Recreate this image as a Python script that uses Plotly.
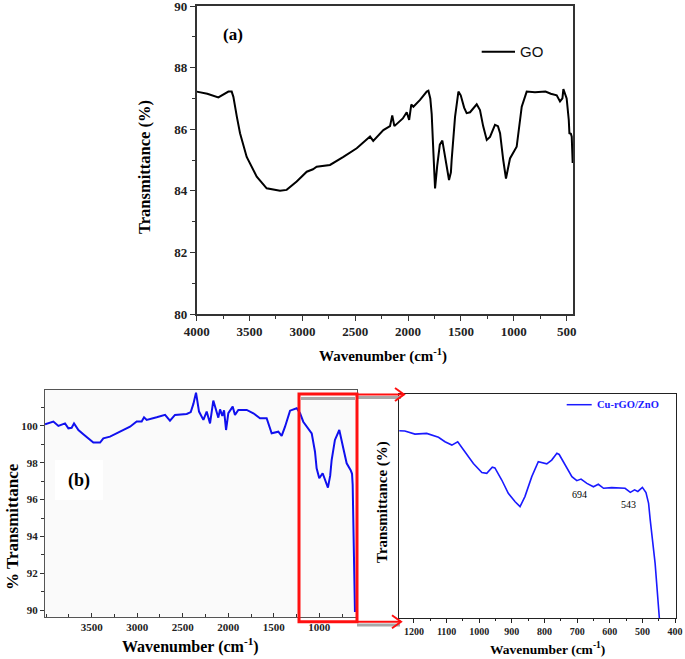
import plotly.graph_objects as go

W, H = 685, 659

# ---------------- data ----------------
go_wn = [4000, 3900, 3795, 3740, 3700, 3669, 3653, 3620, 3590, 3527, 3432, 3338, 3270, 3212, 3149,
         3054, 2959, 2900, 2865, 2739, 2612, 2486, 2360, 2330, 2234, 2171, 2150, 2130, 2050, 2013,
         1990, 1970, 1950, 1887, 1824, 1808, 1790, 1777, 1760, 1745, 1725, 1700, 1676, 1655, 1641,
         1613, 1595, 1588, 1556, 1524, 1502, 1470, 1446, 1414, 1351, 1320, 1290, 1256, 1225, 1178,
         1150, 1130, 1100, 1074, 1036, 973, 925, 878, 800, 700, 650, 594, 563, 540, 531, 510, 500,
         480, 474, 460, 452, 443]
go_t = [87.22, 87.15, 87.03, 87.15, 87.22, 87.22, 87.05, 86.4, 85.87, 85.1, 84.46, 84.08, 84.03, 84.0, 84.03,
        84.3, 84.62, 84.7, 84.78, 84.84, 85.1, 85.38, 85.76, 85.62, 85.97, 86.1, 86.45, 86.1, 86.35, 86.55,
        86.3, 86.8, 86.73, 86.95, 87.22, 87.25, 87.0, 86.5, 85.2, 84.08, 84.8, 85.5, 85.63, 85.2, 85.0,
        84.35, 84.6, 85.0, 86.4, 87.22, 87.1, 86.7, 86.52, 86.55, 86.81, 86.62, 86.1, 85.65, 85.75, 86.14,
        86.1, 85.87, 85.0, 84.4, 85.05, 85.43, 86.73, 87.22, 87.2, 87.22, 87.15, 87.1, 86.9, 87.0, 87.3, 87.05, 87.0,
        86.3, 85.87, 85.85, 85.76, 84.9]

cz_wn = [4013, 3921, 3866, 3793, 3756, 3720, 3694, 3646, 3592, 3518, 3482, 3408, 3372, 3299, 3189,
         3079, 3006, 2951, 2925, 2896, 2786, 2694, 2640, 2585, 2456, 2412, 2383, 2354, 2321, 2273,
         2237, 2200, 2164, 2127, 2109, 2090, 2065, 2046, 2024, 1999, 1951, 1926, 1889, 1797, 1724,
         1651, 1578, 1523, 1450, 1413, 1376, 1321, 1248, 1211, 1176, 1083, 1047, 1029, 1000, 963,
         935, 905, 880, 864, 828, 780, 736, 699, 655, 640, 633, 625, 618, 612, 608]
cz_t = [100.09, 100.24, 100.0, 100.14, 99.87, 99.9, 100.14, 99.78, 99.55, 99.28, 99.1, 99.1, 99.33, 99.42, 99.69,
        99.96, 100.24, 100.24, 100.47, 100.33, 100.47, 100.6, 100.29, 100.6, 100.65, 100.75, 101.2, 101.81, 100.78, 100.33,
        100.78, 100.14, 101.38, 100.69, 100.45, 100.9, 100.55, 100.85, 99.78, 100.7, 101.05, 100.6, 100.87, 100.87, 100.69,
        100.42, 100.42, 99.6, 99.69, 99.46, 99.96, 100.83, 100.96, 100.69, 100.23, 99.6, 98.6, 97.7, 97.16, 97.43,
        97.1, 96.65, 97.3, 98.15, 99.24, 99.78, 98.79, 97.97, 97.6, 97.4, 96.8, 94.2, 92.0, 90.5, 89.9]

zoom_wn = [1246, 1228, 1197, 1161, 1125, 1105, 1084, 1066, 1044, 1018, 992, 977, 960, 952, 931, 911, 890,
           875, 860, 839, 819, 808, 793, 778, 762, 755, 737, 716, 701, 688, 670, 650, 635, 619, 594,
           553, 537, 524, 514, 500, 489, 481, 476, 461, 448]
zoom_t = [98.36, 98.35, 98.21, 98.24, 98.07, 97.87, 97.72, 97.87, 97.42, 96.9, 96.49, 96.46, 96.73, 96.7, 96.16, 95.57, 95.19,
          94.97, 95.42, 96.31, 96.98, 96.95, 96.88, 97.05, 97.35, 97.3, 96.83, 96.31, 96.13, 96.2, 96.01, 95.86, 95.97, 95.79, 95.82,
          95.79, 95.61, 95.72, 95.65, 95.83, 95.6, 95.12, 94.38, 92.44, 89.99]

peak_wn = [694, 543]
peak_lbl = ["694", "543"]
peak_t = [95.5, 95.05]

a_xticks = [4000, 3500, 3000, 2500, 2000, 1500, 1000, 500]
a_yticks = [80, 82, 84, 86, 88, 90]
b_xticks = [3500, 3000, 2500, 2000, 1500, 1000]
b_yticks = [90, 92, 94, 96, 98, 100]
c_xticks = [1200, 1100, 1000, 900, 800, 700, 600, 500, 400]

SERIF = "Liberation Serif, Times New Roman, serif"


def px2x(px):
    return px / W


def py2y(py):
    return 1 - py / H


fig = go.Figure()
fig.add_trace(go.Scatter(x=go_wn, y=go_t, mode="lines", line=dict(color="black", width=2),
                         xaxis="x", yaxis="y", showlegend=False))
fig.add_trace(go.Scatter(x=cz_wn, y=cz_t, mode="lines", line=dict(color="#1010ee", width=2),
                         xaxis="x2", yaxis="y2", showlegend=False))
fig.add_trace(go.Scatter(x=zoom_wn, y=zoom_t, mode="lines", line=dict(color="#1a1aff", width=1.6),
                         xaxis="x3", yaxis="y3", showlegend=False))

tf_a = dict(family=SERIF, size=13, color="#222", weight="bold")
tf_b = dict(family=SERIF, size=11, color="#222", weight="bold")

fig.update_layout(
    width=W, height=H, margin=dict(l=0, r=0, t=0, b=0, autoexpand=False),
    paper_bgcolor="white", plot_bgcolor="white", showlegend=False,
    xaxis=dict(domain=[px2x(196.7), px2x(573)], anchor="y", range=[4000, 440], automargin=False,
               tickvals=a_xticks, ticks="outside", ticklen=5, tickcolor="#333",
               minor=dict(dtick=250, tick0=0, ticks="outside", ticklen=3, tickcolor="#333"),
               showline=True, linecolor="#333", linewidth=1.5, mirror=True, showgrid=False,
               zeroline=False, tickfont=tf_a, ticklabeloverflow="allow"),
    yaxis=dict(domain=[py2y(314), py2y(6)], anchor="x", range=[80, 90], automargin=False,
               tickvals=a_yticks, ticks="outside", ticklen=5, tickcolor="#333",
               minor=dict(dtick=1, ticks="outside", ticklen=3, tickcolor="#333"),
               showline=True, linecolor="#333", linewidth=1.5, mirror=True, showgrid=False,
               zeroline=False, tickfont=tf_a, ticklabeloverflow="allow"),
    xaxis2=dict(domain=[px2x(45), px2x(356.5)], anchor="y2", range=[4013, 591], automargin=False,
                tickvals=b_xticks, ticks="inside", ticklen=4, tickcolor="#333",
                minor=dict(dtick=250, tick0=0, ticks="inside", ticklen=3, tickcolor="#333"),
                showline=True, linecolor="#555", linewidth=1, mirror=True, showgrid=False,
                zeroline=False, tickfont=tf_b),
    yaxis2=dict(domain=[py2y(616.7), py2y(389.5)], anchor="x2", range=[89.64, 101.98], automargin=False,
                tickvals=b_yticks, ticks="outside", ticklen=4, tickcolor="#333",
                minor=dict(dtick=1, ticks="outside", ticklen=3, tickcolor="#333"),
                showline=True, linecolor="#555", linewidth=1, mirror=True, showgrid=False,
                zeroline=False, tickfont=tf_b),
    xaxis3=dict(domain=[px2x(399.3), px2x(676)], anchor="y3", range=[1245, 397], automargin=False,
                tickvals=c_xticks, ticks="outside", ticklen=4, tickcolor="#222",
                minor=dict(dtick=50, tick0=0, ticks="outside", ticklen=2, tickcolor="#222"),
                showline=True, linecolor="#222", linewidth=1.2, mirror=True, showgrid=False,
                zeroline=False, tickfont=dict(family=SERIF, size=10, color="#222", weight="bold"),
                ticklabeloverflow="allow"),
    yaxis3=dict(domain=[py2y(618), py2y(394)], anchor="x3", range=[90, 100], automargin=False,
                showticklabels=False, ticks="", showline=True, linecolor="#222", linewidth=1.2,
                mirror=True, showgrid=False, zeroline=False),
)

shapes = []
# light background of panel (b) left plot
shapes.append(dict(type="rect", xref="paper", yref="paper", layer="below",
                   x0=px2x(45), x1=px2x(356.5), y0=py2y(616.7), y1=py2y(389.5),
                   fillcolor="#fafafa", line=dict(width=0)))
# white box behind (b)
shapes.append(dict(type="rect", xref="paper", yref="paper", layer="below",
                   x0=px2x(55), x1=px2x(103), y0=py2y(500), y1=py2y(460),
                   fillcolor="white", line=dict(width=0)))
# gray shadows
for (xa, xb, yy) in [(301, 355, 398.5), (357, 401, 397.5), (357, 400, 625)]:
    shapes.append(dict(type="line", xref="paper", yref="paper",
                       x0=px2x(xa), x1=px2x(xb), y0=py2y(yy), y1=py2y(yy),
                       line=dict(color="#a8a8a8", width=3)))
# red box
shapes.append(dict(type="rect", xref="paper", yref="paper",
                   x0=px2x(299), x1=px2x(357), y0=py2y(621.7), y1=py2y(394),
                   line=dict(color="#ff1010", width=3)))
# red arrows
for (xa, xb, yy) in [(357, 404, 394.5), (357, 401, 621.7)]:
    shapes.append(dict(type="line", xref="paper", yref="paper",
                       x0=px2x(xa), x1=px2x(xb), y0=py2y(yy), y1=py2y(yy),
                       line=dict(color="#ff1010", width=2)))
    path = "M {} {} L {} {} L {} {}".format(px2x(xb - 9), py2y(yy - 6.5), px2x(xb), py2y(yy),
                                           px2x(xb - 9), py2y(yy + 6.5))
    shapes.append(dict(type="path", xref="paper", yref="paper", path=path,
                       line=dict(color="#ff1010", width=2)))
# legend lines
shapes.append(dict(type="line", xref="paper", yref="paper", x0=px2x(481.7), x1=px2x(515),
                   y0=py2y(51.7), y1=py2y(51.7), line=dict(color="black", width=2)))
shapes.append(dict(type="line", xref="paper", yref="paper", x0=px2x(566.7), x1=px2x(591.7),
                   y0=py2y(404.7), y1=py2y(404.7), line=dict(color="#1a1aff", width=1.5)))
fig.update_layout(shapes=shapes)

ann = []


def text(px, py, s, size, xanchor="center", angle=0, family=SERIF, bold=True, color="black", **kw):
    ann.append(dict(xref="paper", yref="paper", x=px2x(px), y=py2y(py), text=s, showarrow=False,
                    xanchor=xanchor, yanchor="middle", textangle=angle,
                    font=dict(family=family, size=size, color=color, weight="bold" if bold else "normal"), **kw))


text(233, 35, "(a)", 17)
text(518, 51.7, "GO", 15, xanchor="left", family="Liberation Sans, Arial, sans-serif", bold=False, color="#111")
text(145, 167, "Transmittance (%)", 16.5, angle=-90)
text(383, 356, "Wavenumber (cm<sup>-1</sup>)", 15)
text(79, 480, "(b)", 18)
text(12, 527, "% Transmittance", 17, angle=-90)
text(190, 645, "Wavenumber (cm<sup>-1</sup>)", 16)
text(382, 502, "Transmittance (%)", 15, angle=-90)
text(547, 648, "Wavenumber (cm<sup>-1</sup>)", 13.5)
text(595, 404.7, "Cu-rGO/ZnO", 10.5, xanchor="left", color="#1a1aff")
for w_, t_, s_ in zip(peak_wn, peak_lbl, peak_t):
    ann.append(dict(xref="x3", yref="y3", x=w_, y=s_, text=t_, showarrow=False,
                    font=dict(family=SERIF, size=10, color="black")))
fig.update_layout(annotations=ann)

fig.write_html("out.html", config={"displayModeBar": False},
               post_script="document.body.style.margin='0';document.body.style.padding='0';"
                           "document.body.style.overflow='hidden';")
